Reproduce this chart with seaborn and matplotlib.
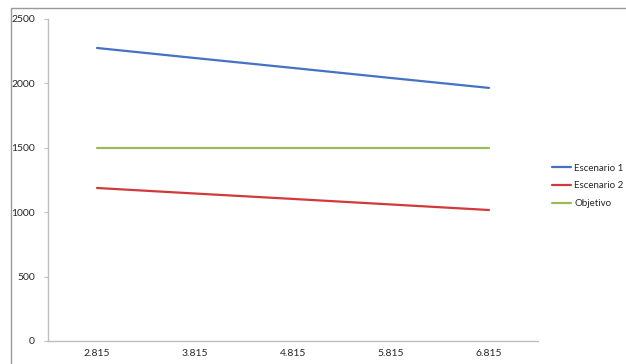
import matplotlib
matplotlib.use("Agg")
import matplotlib.pyplot as plt
import seaborn as sns
import pandas as pd
from matplotlib.patches import Rectangle

categories = ["2.815", "3.815", "4.815", "5.815", "6.815"]
escenario1 = [2275, 2197, 2120, 2042, 1965]
escenario2 = [1188, 1145, 1103, 1060, 1017]
objetivo = [1500, 1500, 1500, 1500, 1500]
series_names = ["Escenario 1", "Escenario 2", "Objetivo"]
colors = ["#4472C4", "#D03A3A", "#9BBB59"]

rows = []
for name, vals in zip(series_names, [escenario1, escenario2, objetivo]):
    for i, (c, v) in enumerate(zip(categories, vals)):
        rows.append({"pos": i, "cat": c, "value": v, "serie": name})
df = pd.DataFrame(rows)

sns.set_style("white")
plt.rcParams["font.family"] = ["Lato", "DejaVu Sans"]

fig = plt.figure(figsize=(6.26, 3.64), dpi=100)
ax = fig.add_axes([48/626, 1-341/364, (538-48)/626, (341-19)/364])

sns.lineplot(data=df, x="pos", y="value", hue="serie", hue_order=series_names,
             palette=colors, linewidth=1.6, ax=ax, legend=True)

ax.set_xlim(-0.5, 4.5)
ax.set_ylim(0, 2500)
ax.set_xticks(range(len(categories)))
ax.set_xticklabels(categories)
ax.set_yticks([0, 500, 1000, 1500, 2000, 2500])
ax.set_xlabel("")
ax.set_ylabel("")
for s in ["top", "right"]:
    ax.spines[s].set_visible(False)
for s in ["left", "bottom"]:
    ax.spines[s].set_color("#BFBFBF")
    ax.spines[s].set_linewidth(1.0)
ax.tick_params(axis="y", length=3, color="#BFBFBF", labelsize=7.5, pad=6.4, left=True)
ax.tick_params(axis="x", length=0, labelsize=7.5, pad=6)

handles, labels = ax.get_legend_handles_labels()
ax.legend(handles, labels, loc="center left", bbox_to_anchor=(548/626, 1-186/364),
          bbox_transform=fig.transFigure, frameon=False, fontsize=7,
          handlelength=2.0, handletextpad=0.3, labelspacing=0.9, borderaxespad=0)

fig.add_artist(Rectangle((10.5/626, -0.1), 1.2, 1-8/364+0.1, transform=fig.transFigure,
                         fill=False, edgecolor="#9A9A9A", linewidth=1.0))

fig.savefig("out.png", dpi=100)
